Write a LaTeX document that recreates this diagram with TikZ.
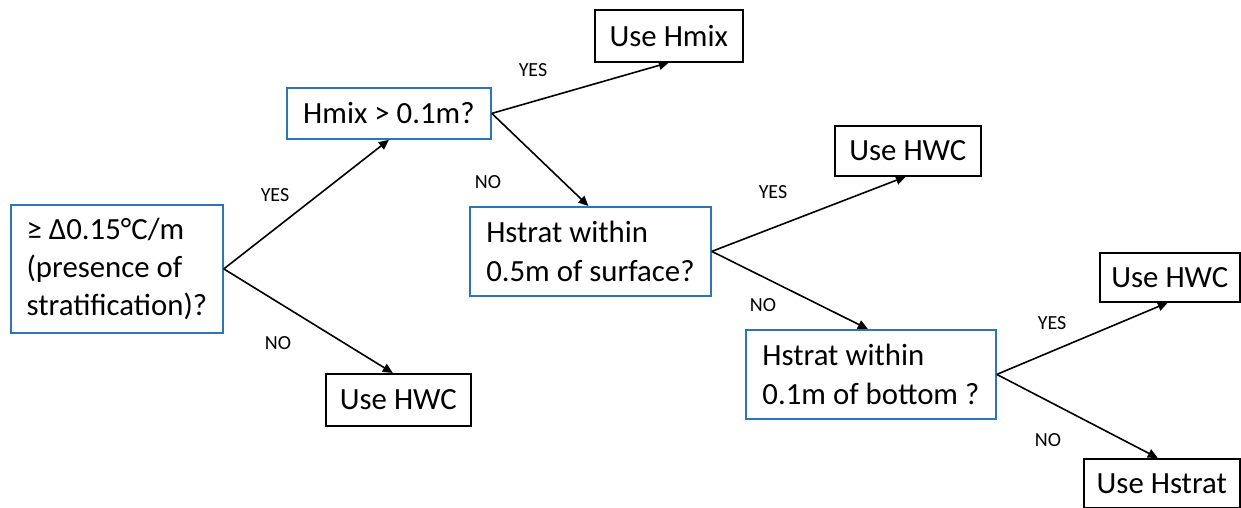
\documentclass[tikz,border=0pt]{standalone}
\usepackage{fontspec}
\setmainfont{Carlito}
\usetikzlibrary{arrows.meta}
\definecolor{qblue}{RGB}{46,117,182}
\tikzset{
  qbox/.style={draw=qblue, line width=0.9pt, anchor=north west, align=left,
    inner xsep=6pt, inner ysep=0pt, font=\fontsize{15.4}{19.2}\selectfont},
  abox/.style={draw=black, line width=0.8pt, anchor=north west, align=center,
    inner sep=0pt, font=\fontsize{15.4}{19.2}\selectfont},
  conn/.style={draw=black, line width=0.8pt, -{Triangle[length=5pt,width=4.5pt]}},
  lbl/.style={font=\fontsize{10}{12}\selectfont, inner sep=0pt}
}
\begin{document}
\begin{tikzpicture}[x=0.5pt,y=-0.5pt]
\useasboundingbox (0,0) rectangle (1241,508);
% decision boxes
\node[qbox, minimum width=106pt, minimum height=64pt] (b1) at (10,204)
  {≥ Δ0.15°C/m\\(presence of\\stratification)?};
\node[qbox, minimum width=102pt, minimum height=25.5pt] (b2) at (286,87)
  {Hmix > 0.1m?};
\node[qbox, minimum width=120.5pt, minimum height=44.5pt] (b4) at (469,206)
  {Hstrat within\\0.5m of surface?};
\node[qbox, minimum width=125pt, minimum height=44.5pt] (b7) at (745,329)
  {Hstrat within\\0.1m of bottom ?};
% answer boxes
\node[abox, minimum width=74pt, minimum height=26pt] (hmix) at (594,9) {Use Hmix};
\node[abox, minimum width=73pt, minimum height=25pt] (hwc1) at (834,125) {Use HWC};
\node[abox, minimum width=72.5pt, minimum height=26pt] (hwc2) at (325,373) {Use HWC};
\node[abox, minimum width=70pt, minimum height=24.5pt] (hwc3) at (1099,252) {Use HWC};
\node[abox, minimum width=78pt, minimum height=24.5pt] (hstrat) at (1083,458) {Use Hstrat};
% connectors
\draw[conn] (b1.east) -- (b2.south);
\draw[conn] (b1.east) -- ([xshift=-2.75pt]hwc2.north);
\draw[conn] (b2.east) -- (hmix.south);
\draw[conn] (b2.east) -- ([xshift=-1pt]b4.north);
\draw[conn] (b4.east) -- ([xshift=-1pt]hwc1.south);
\draw[conn] (b4.east) -- ([xshift=-1.5pt]b7.north);
\draw[conn] (b7.east) -- ([xshift=-1pt]hwc3.south);
\draw[conn] (b7.east) -- ([xshift=-2pt]hstrat.north);
% labels
\node[lbl] (l1) at (275,195) {YES};
\node[lbl] (l2) at (278,343) {NO};
\node[lbl] (l3) at (533,70) {YES};
\node[lbl] (l4) at (488,182) {NO};
\node[lbl] (l5) at (773,192) {YES};
\node[lbl] (l6) at (763,305) {NO};
\node[lbl] (l7) at (1052,323) {YES};
\node[lbl] (l8) at (1048,440) {NO};
\end{tikzpicture}
\end{document}
